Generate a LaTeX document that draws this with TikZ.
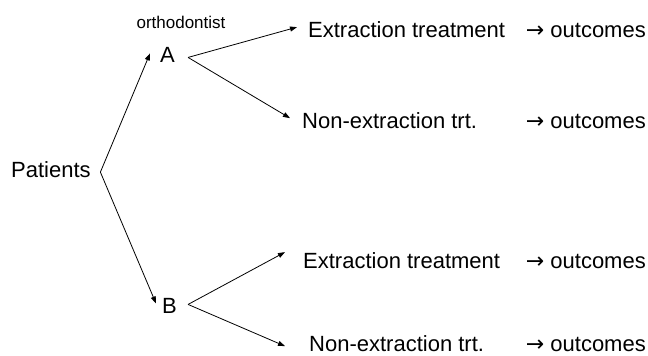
\documentclass[tikz,border=0pt]{standalone}
\usepackage{fontspec}
\setmainfont{Liberation Sans}
\newfontfamily\arrowfont{DejaVu Sans}
\usetikzlibrary{arrows.meta,positioning}

\tikzset{
  lbl/.style={font=\fontsize{22}{26}\selectfont, inner sep=0pt, anchor=base west},
  res/.style={lbl, anchor=base east},
  small/.style={font=\fontsize{17}{20}\selectfont, inner sep=0pt, anchor=base},
  branch/.style={-{Triangle[length=7pt,width=5pt]}, line width=0.8pt},
}
\newcommand{\outc}{{\arrowfont →} outcomes}

\begin{document}
\begin{tikzpicture}[x=1pt,y=-1pt]
    \useasboundingbox (0,0) rectangle (648,356);
    % root and orthodontists
    \node[lbl] (pat) at (11,177) {Patients};
    \node[small] (orth) at (181,28) {orthodontist};
    \node[lbl] (A) at (160,62) {A};
    \node[lbl] (B) at (162,313) {B};
    % treatments
    \node[lbl] (ext1) at (308,37) {Extraction treatment};
    \node[lbl] (non1) at (302,128) {Non-extraction trt.};
    \node[lbl] (ext2) at (303,268) {Extraction treatment};
    \node[lbl] (non2) at (309,351) {Non-extraction trt.};
    % outcomes
    \node[res] (out1) at (646,37) {\outc};
    \node[res] (out2) at (646,128) {\outc};
    \node[res] (out3) at (646,268) {\outc};
    \node[res] (out4) at (646,351) {\outc};
    % arrows
    \draw[branch] ([xshift=9.5pt,yshift=-3pt]pat.east) -- ([xshift=-10pt,yshift=1pt]A.west);
    \draw[branch] ([xshift=9.5pt,yshift=-3pt]pat.east) -- ([xshift=-6pt,yshift=2pt]B.west);
    \draw[branch] ([xshift=13pt,yshift=-3pt]A.east) -- ([xshift=-11pt,yshift=2pt]ext1.west);
    \draw[branch] ([xshift=13pt,yshift=-3pt]A.east) -- ([xshift=-12pt,yshift=2pt]non1.west);
    \draw[branch] ([xshift=11pt,yshift=1pt]B.east) -- ([xshift=-18pt,yshift=8pt]ext2.west);
    \draw[branch] ([xshift=11pt,yshift=1pt]B.east) -- ([xshift=-24pt,yshift=-3pt]non2.west);
\end{tikzpicture}
\end{document}
